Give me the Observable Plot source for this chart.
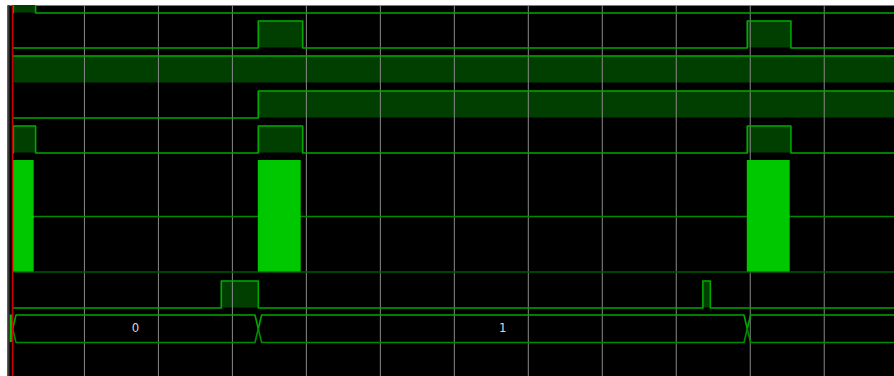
<!DOCTYPE html>
<html><head><meta charset="utf-8">
<script src="https://cdn.jsdelivr.net/npm/d3@7"></script>
<script src="https://cdn.jsdelivr.net/npm/@observablehq/plot@0.6"></script>
<style>html,body{margin:0;padding:0;background:#fff;} #chart svg{display:block;}</style>
</head><body><div id="chart"></div>
<script>
// ---- data (time units; one grid division = 100) ----
const tStart = 3, tEnd = 1195;
const gridTimes = [100, 200, 300, 400, 500, 600, 700, 800, 900, 1000, 1100];
const cursorTime = 2.8;
const sigA = [[4, 34]];
const sigB = [[335, 395], [996, 1055]];
const sigC = [[3, 1195]];
const sigD = [[335, 1195]];
const sigE = [[4, 34], [335, 395], [996, 1055]];
const burst = [[4, 32], [335, 393], [996, 1054]];
const sigF = [[285, 335], [936, 946]];
const busTimes = [3, 335, 996];
const busValues = ["0", "1", "2"];

// ---- layout (pixel-space y via identity y scale) ----
const pitch = 35, laneH = 27;
const digital = [sigA, sigB, sigC, sigD, sigE];
const lanes = digital.map((iv, i) => ({iv, lo: 12.5 + pitch * i, hi: 12.5 + pitch * i - laneH}));
lanes.push({iv: sigF, lo: 307.5, hi: 280.5});
const burstTop = 160, burstMid = 216, burstBot = 271.5;
const busTop = 314.5, busBot = 342, busMid = (314.5 + 342) / 2, busD = 4.5;

const LINE = "#00a800", FILL = "#003f00", DARK = "#005a00", BRIGHT = "#00c800";

function wavePoints(iv, hi, lo, lane) {
  const pts = [{t: tStart, y: lo, lane}];
  for (const [a, b] of iv) {
    if (a <= tStart) pts[0].y = hi;
    else pts.push({t: a, y: lo, lane}, {t: a, y: hi, lane});
    if (b >= tEnd) { pts.push({t: tEnd, y: hi, lane}); return pts; }
    pts.push({t: b, y: hi, lane}, {t: b, y: lo, lane});
  }
  pts.push({t: tEnd, y: lo, lane});
  return pts;
}
const linePts = lanes.flatMap((l, i) => wavePoints(l.iv, l.hi, l.lo, i));
const fillRects = lanes.flatMap(l => l.iv.map(([a, b]) => ({a, b, hi: l.hi, lo: l.lo})));
const burstRects = burst.map(([a, b]) => ({a, b}));

const busTopPts = [], busBotPts = [], busLabels = [];
busTimes.forEach((t0, i) => {
  const last = i === busTimes.length - 1;
  const t1 = last ? tEnd : busTimes[i + 1];
  const seg = "s" + i;
  busTopPts.push({t: t0, y: busMid, seg}, {t: t0 + busD, y: busTop, seg});
  busBotPts.push({t: t0, y: busMid, seg}, {t: t0 + busD, y: busBot, seg});
  if (last) {
    busTopPts.push({t: t1, y: busTop, seg});
    busBotPts.push({t: t1, y: busBot, seg});
  } else {
    busTopPts.push({t: t1 - busD, y: busTop, seg}, {t: t1, y: busMid, seg});
    busBotPts.push({t: t1 - busD, y: busBot, seg}, {t: t1, y: busMid, seg});
    busLabels.push({t: (t0 + t1) / 2, label: busValues[i]});
  }
});

const chart = Plot.plot({
  width: 894, height: 376,
  marginLeft: 7, marginRight: 0, marginTop: 5, marginBottom: 0,
  x: {domain: [-4, 1195], axis: null},
  y: {domain: [5, 376], reverse: true, axis: null},
  marks: [
    Plot.frame({fill: "black", stroke: null}),
    Plot.rect(fillRects, {x1: "a", x2: "b", y1: "hi", y2: "lo", fill: FILL, clip: true}),
    Plot.ruleX(gridTimes, {stroke: "#8a8a8a", strokeWidth: 1}),
    Plot.ruleY([burstMid], {x1: tStart, x2: tEnd, stroke: "#008800", strokeWidth: 1.6}),
    Plot.ruleY([burstBot], {x1: tStart, x2: tEnd, stroke: DARK, strokeWidth: 1.6}),
    Plot.line(linePts, {x: "t", y: "y", z: "lane", stroke: LINE, strokeWidth: 1.6, clip: true}),
    Plot.rect(burstRects, {x1: "a", x2: "b", y1: burstTop, y2: burstBot, fill: BRIGHT}),
    Plot.line(busTopPts, {x: "t", y: "y", z: "seg", stroke: LINE, strokeWidth: 1.6}),
    Plot.line(busBotPts, {x: "t", y: "y", z: "seg", stroke: "#008c00", strokeWidth: 1.6}),
    Plot.rect([0], {x1: -0.6, x2: 2.8, y1: busTop, y2: busBot, fill: "#00c000"}),
    Plot.text(busLabels, {x: "t", y: busMid - 1, text: "label", fill: "#d8d8d8",
      fontSize: 13, fontFamily: "'Liberation Sans Narrow', 'DejaVu Sans Condensed', sans-serif"}),
    Plot.ruleX([-2.6], {stroke: "#3a3a3a", strokeWidth: 2}),
    Plot.ruleX([cursorTime], {stroke: "#cc0000", strokeWidth: 1.5})
  ]
});
document.getElementById("chart").appendChild(chart);
</script>
</body></html>
